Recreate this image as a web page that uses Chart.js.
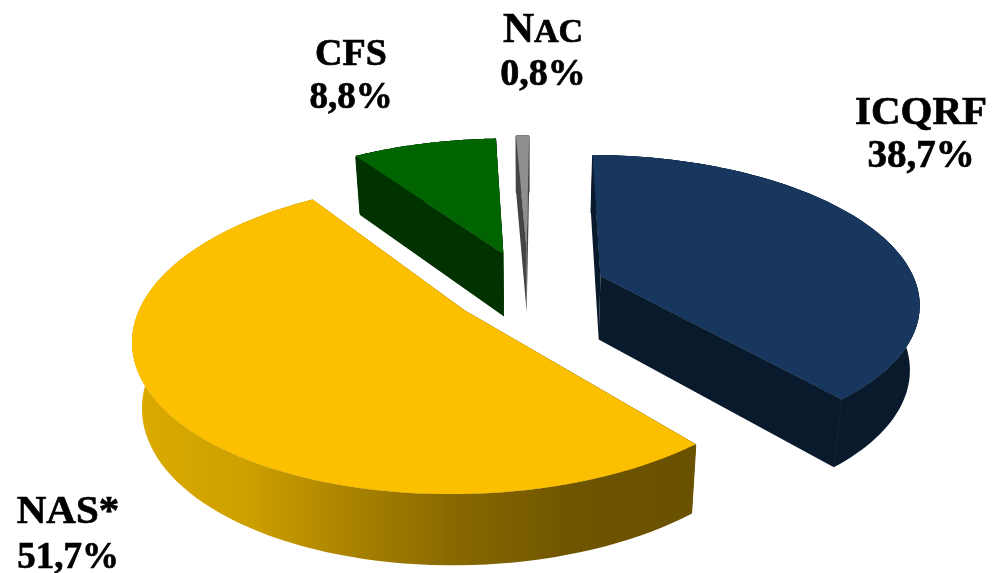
<!DOCTYPE html>
<html>
<head>
<meta charset="utf-8">
<style>html,body{margin:0;padding:0;background:#fff}canvas{display:block}</style>
<script src="https://cdn.jsdelivr.net/npm/chart.js@4"></script>
</head>
<body>
<canvas id="c" width="992" height="573"></canvas>
<script>
const categories = ['ICQRF', 'NAS*', 'CFS', 'NAC'];
const shareValues = [38.7, 51.7, 8.8, 0.8];
const shareLabels = ['38,7%', '51,7%', '8,8%', '0,8%'];
const explodeOffsets = [62, 62, 65, 70];
const topColors = ['#17375e', '#fdc000', '#006400', '#8f8f8f'];
const wallColors = ['#0a1a2d', '#8a6a00', '#003300', '#444444'];
const labelBoxes = [
  {x: 921, y1: 124, y2: 167, s1: 41, s2: 39},
  {x: 68, y1: 523, y2: 568, s1: 41, s2: 37},
  {x: 351, y1: 65, y2: 108, s1: 38, s2: 37},
  {x: 543, y1: 42, y2: 85, s1: 43, s2: 38}
];
const view = {x0: 528, y0: 288, a: 317, b: 145, p: 0.167, depth: 64, lowerScale: 0.975};
const FONT = '"Liberation Serif", serif';

function project(u, v, lower) {
  const w = 1 / (1 - view.p * v);
  let x = view.x0 + view.a * u * w;
  let y = view.y0 + view.b * v * w;
  if (lower) {
    x = view.x0 + (x - view.x0) * view.lowerScale;
    y += view.depth * Math.sqrt(w);
  }
  return [x, y];
}
function pathOf(ctx, pts) {
  ctx.beginPath();
  pts.forEach((p, i) => i ? ctx.lineTo(p[0], p[1]) : ctx.moveTo(p[0], p[1]));
  ctx.closePath();
}
function heavyText(ctx, text, x, y) {
  ctx.lineWidth = 0.7;
  ctx.strokeStyle = '#000';
  ctx.strokeText(text, x, y);
  ctx.fillText(text, x, y);
}
const piePlugin = {
  id: 'tiltedPie',
  beforeDatasetsDraw(chart) {
    const ctx = chart.ctx;
    const arcs = chart.getDatasetMeta(0).data;
    const order = [3, 2, 0, 1];
    order.forEach(i => {
      const arc = arcs[i];
      const R = arc.outerRadius;
      const off = arc.options.offset / R;
      const mid = (arc.startAngle + arc.endAngle) / 2;
      const ou = Math.cos(mid) * off, ov = Math.sin(mid) * off;
      const steps = 90;
      const rim = [], rimLow = [];
      for (let k = 0; k <= steps; k++) {
        const a = arc.startAngle + (arc.endAngle - arc.startAngle) * k / steps;
        rim.push(project(ou + Math.cos(a), ov + Math.sin(a), false));
        rimLow.push(project(ou + Math.cos(a), ov + Math.sin(a), true));
      }
      const apex = project(ou, ov, false), apexLow = project(ou, ov, true);
      let wall = wallColors[i];
      if (i === 1) {
        const g = ctx.createLinearGradient(137, 0, 693, 0);
        g.addColorStop(0, '#dcaa00');
        g.addColorStop(0.2, '#cda000');
        g.addColorStop(0.37, '#ad8500');
        g.addColorStop(0.56, '#8a6a00');
        g.addColorStop(0.78, '#6f5500');
        g.addColorStop(1, '#6a5100');
        wall = g;
      }
      ctx.fillStyle = wall;
      ctx.strokeStyle = wall;
      ctx.lineWidth = 1;
      const shapes = [
        rim.concat(rimLow.slice().reverse()),
        [apex, rim[0], rimLow[0], apexLow],
        [apex, rim[steps], rimLow[steps], apexLow],
        [apex].concat(rim)
      ];
      shapes.forEach(s => { pathOf(ctx, s); ctx.fill(); });
      [0, steps].forEach(k => {
        ctx.beginPath();
        ctx.moveTo(rim[k][0], rim[k][1] + 1);
        ctx.lineTo(rimLow[k][0], rimLow[k][1] - 1);
        ctx.stroke();
      });
      ctx.fillStyle = topColors[i];
      pathOf(ctx, [apex].concat(rim)); ctx.fill();
    });
    ctx.fillStyle = '#000';
    ctx.textBaseline = 'alphabetic';
    labelBoxes.forEach((b, i) => {
      ctx.textAlign = 'center';
      ctx.font = 'bold ' + b.s2 + 'px ' + FONT;
      heavyText(ctx, shareLabels[i], b.x, b.y2);
      ctx.font = 'bold ' + b.s1 + 'px ' + FONT;
      const name = categories[i];
      if (name === 'NAC') {
        const head = name.slice(0, 1), tail = name.slice(1);
        const hw = ctx.measureText(head).width;
        ctx.font = 'bold ' + Math.round(b.s1 * 0.8) + 'px ' + FONT;
        const tw = ctx.measureText(tail).width;
        const left = b.x - (hw + tw) / 2;
        ctx.textAlign = 'left';
        heavyText(ctx, tail, left + hw, b.y1);
        ctx.font = 'bold ' + b.s1 + 'px ' + FONT;
        heavyText(ctx, head, left, b.y1);
      } else {
        heavyText(ctx, name, b.x, b.y1);
      }
    });
    return false;
  }
};
new Chart(document.getElementById('c'), {
  type: 'pie',
  data: {
    labels: categories,
    datasets: [{
      data: shareValues,
      backgroundColor: topColors,
      borderWidth: 0,
      offset: explodeOffsets
    }]
  },
  options: {
    responsive: false,
    animation: false,
    rotation: 0.5,
    layout: {padding: 0},
    plugins: {legend: {display: false}, tooltip: {enabled: false}, title: {display: false}}
  },
  plugins: [piePlugin]
});
</script>
</body>
</html>
